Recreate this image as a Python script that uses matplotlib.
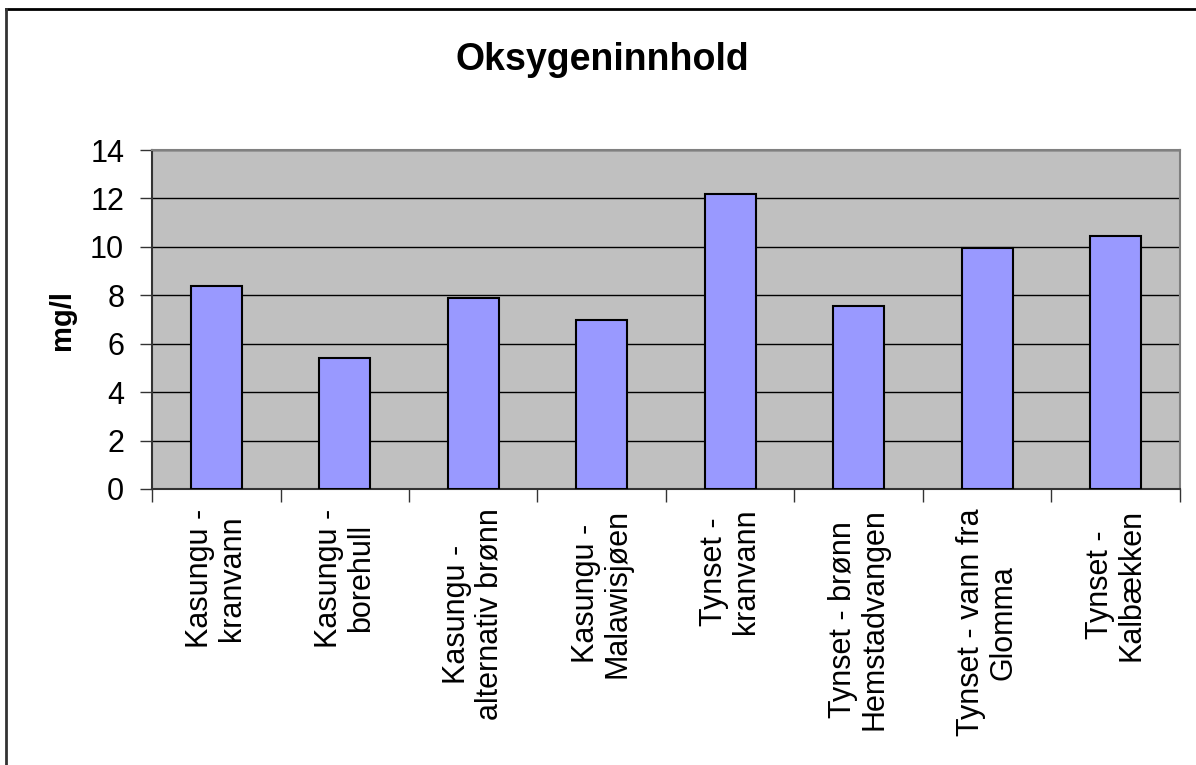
import matplotlib.pyplot as plt
from matplotlib.lines import Line2D
import numpy as np

plt.rcParams['font.family'] = ['Liberation Sans', 'DejaVu Sans']

categories = ['Kasungu -\nkranvann', 'Kasungu -\nborehull', 'Kasungu -\nalternativ brønn',
              'Kasungu -\nMalawisjøen', 'Tynset -\nkranvann', 'Tynset - brønn\nHemstadvangen',
              'Tynset - vann fra\nGlomma', 'Tynset -\nKalbækken']
values = [8.38, 5.40, 7.89, 6.97, 12.20, 7.56, 9.95, 10.45]

fig = plt.figure(figsize=(11.96, 7.65), dpi=100)
ax = fig.add_axes([0.1271, 0.3608, 0.8595, 0.4431])
ax.set_facecolor('#C0C0C0')

x = np.arange(len(categories))
ax.bar(x, values, width=0.40, color='#9999FF', edgecolor='black', linewidth=1.5, zorder=3)

ax.set_xlim(-0.5, len(categories) - 0.5)
ax.set_ylim(0, 14)
ax.set_yticks(range(0, 15, 2))
ax.yaxis.grid(True, color='black', linewidth=1, zorder=1)
ax.set_axisbelow(True)

ax.set_xticks(x)
ax.set_xticklabels(categories, rotation=90, fontsize=22, ha='center', va='top',
                   multialignment='center', linespacing=1.1)
ax.tick_params(axis='x', which='major', length=0, pad=14)
ax.set_xticks(np.arange(-0.5, len(categories)), minor=True)
ax.tick_params(axis='x', which='minor', length=9, width=1, direction='out', color='#333333')
ax.tick_params(axis='y', labelsize=22, length=9, width=1, direction='out', color='#333333', pad=11)

for s in ['top', 'right']:
    ax.spines[s].set_color('#808080')
    ax.spines[s].set_linewidth(1.5)
ax.spines['left'].set_color('#333333')
ax.spines['bottom'].set_color('#333333')
ax.spines['left'].set_linewidth(1.5)
ax.spines['bottom'].set_linewidth(1.5)

ax.set_ylabel('mg/l', fontsize=21, fontweight='bold', labelpad=10)
fig.text(0.504, 0.9216, 'Oksygeninnhold', fontsize=27, fontweight='bold', ha='center', va='center')

# chart border (top and left edges visible in the reference)
fig.lines.append(Line2D([0.005, 1.0], [0.988, 0.988], transform=fig.transFigure, color='black', linewidth=2))
fig.lines.append(Line2D([0.005, 0.005], [0.0, 0.988], transform=fig.transFigure, color='#333333', linewidth=2))

fig.savefig('out.png', dpi=100, facecolor='white')
